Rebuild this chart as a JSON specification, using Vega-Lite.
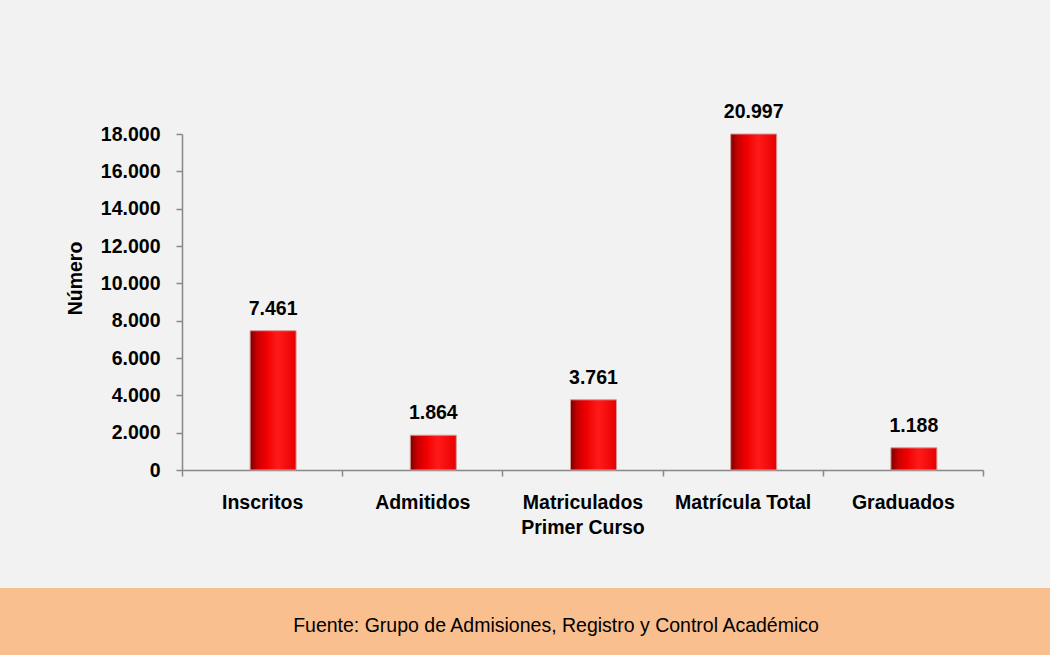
{
  "$schema": "https://vega.github.io/schema/vega-lite/v6.json",
  "background": "#f2f2f2",
  "padding": {"left": 0, "top": 102, "right": 0, "bottom": 0},
  "config": {
    "locale": {"number": {"decimal": ",", "thousands": ".", "grouping": [3], "currency": ["$", ""]}},
    "font": "Liberation Sans",
    "view": {"stroke": null}
  },
  "spacing": 51,
  "vconcat": [
    {
      "width": 983,
      "height": 336,
      "data": {"values": [
        {"categoria": "Inscritos", "valor": 7461},
        {"categoria": "Admitidos", "valor": 1864},
        {"categoria": "Matriculados Primer Curso", "valor": 3761},
        {"categoria": "Matrícula Total", "valor": 20997},
        {"categoria": "Graduados", "valor": 1188}
      ]},
      "encoding": {
        "x": {
          "field": "categoria", "type": "nominal", "sort": null,
          "scale": {"paddingInner": 0, "paddingOuter": 0.56804, "align": 1},
          "axis": {
            "title": null,
            "labelAngle": 0, "tickBand": "extent", "tickSize": 6,
            "labelPadding": 17, "labelFontSize": 19.5, "labelFontWeight": "bold",
            "labelColor": "#000", "labelLineHeight": 25, "labelLimit": 400,
            "domainColor": "#888", "tickColor": "#888", "domainWidth": 1.5, "tickWidth": 1.5,
            "domainDash": [0, 182, 801, 1000],
            "labelExpr": "datum.label == 'Matriculados Primer Curso' ? ['Matriculados', 'Primer Curso'] : datum.label"
          }
        },
        "y": {
          "field": "valor", "type": "quantitative",
          "scale": {"domain": [0, 18000], "clamp": true, "nice": false},
          "axis": {
            "title": "Número", "values": [0, 2000, 4000, 6000, 8000, 10000, 12000, 14000, 16000, 18000],
            "offset": -182,
            "format": ",d", "grid": false, "domainColor": "#888", "tickColor": "#888",
            "domainWidth": 1.5, "tickWidth": 1.5,
            "tickSize": 6, "labelPadding": 16, "labelFontSize": 19.5, "labelFontWeight": "bold",
            "labelColor": "#000", "titleFontSize": 19.5, "titleFontWeight": "bold", "titleColor": "#000",
            "titlePadding": 15, "titleY": 144
          }
        }
      },
      "layer": [
        {
          "mark": {
            "type": "bar", "width": {"band": 0.287}, "xOffset": 11,
            "stroke": "#d49a9a", "strokeWidth": 1,
            "color": {
              "gradient": "linear", "x1": 0, "x2": 1, "y1": 0, "y2": 0,
              "stops": [
                {"offset": 0, "color": "#7a0000"},
                {"offset": 0.15, "color": "#c80000"},
                {"offset": 0.35, "color": "#f00000"},
                {"offset": 0.6, "color": "#ff1a1a"},
                {"offset": 1, "color": "#e80000"}
              ]
            }
          }
        },
        {
          "mark": {"type": "text", "xOffset": 11, "dy": -16, "baseline": "alphabetic", "fontWeight": "bold", "fontSize": 19.5, "color": "#000"},
          "encoding": {"text": {"field": "valor", "type": "quantitative", "format": ",d"}}
        }
      ]
    },
    {
      "width": 1050,
      "height": 67,
      "view": {"fill": "#FABF8F", "stroke": null},
      "data": {"values": [{"fuente": "Fuente: Grupo de Admisiones, Registro y Control Académico"}]},
      "mark": {"type": "text", "fontSize": 19.5, "dx": 31, "dy": 4, "color": "#000"},
      "encoding": {"text": {"field": "fuente", "type": "nominal"}}
    }
  ]
}
